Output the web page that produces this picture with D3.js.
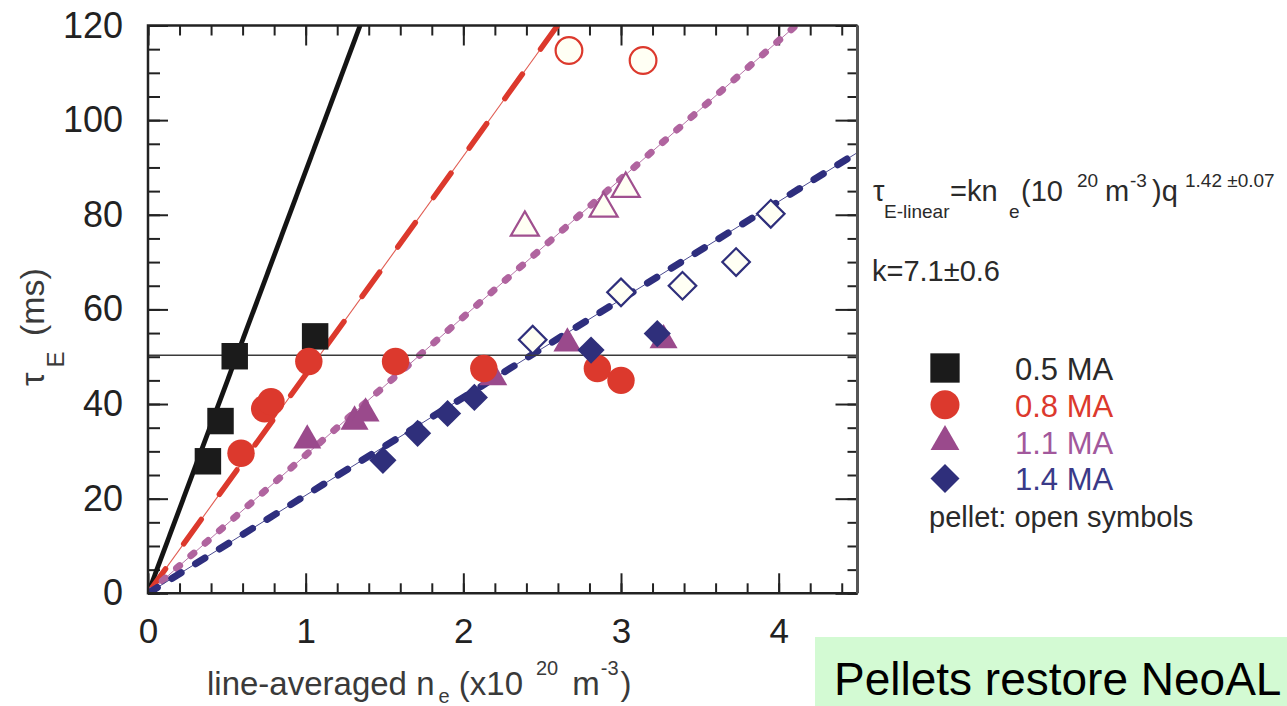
<!DOCTYPE html>
<html>
<head>
<meta charset="utf-8">
<script src="https://cdn.jsdelivr.net/npm/d3@7"></script>
<style>
  body { margin: 0; background: #fff; }
  svg { display: block; }
  text { font-family: "Liberation Sans", Arial, Helvetica, sans-serif; }
</style>
</head>
<body>
<svg id="chart" width="1287" height="706"></svg>
<script>
// ---- data ----
const currents = ["0.5 MA", "0.8 MA", "1.1 MA", "1.4 MA"]
const slopes = [89.2, 46.2, 29.2, 20.7]          // tau_E = slope * n_e, one fit per current
const squares = [[0.38, 27.9], [0.46, 36.4], [0.55, 50.1], [1.06, 54.3]]
const circles = [[0.59, 29.6], [0.74, 39.0], [0.78, 40.5], [1.02, 49.0], [1.57, 49.0], [2.13, 47.5], [2.85, 47.5], [3.0, 45.0]]
const circlesOpen = [[2.67, 114.7], [3.14, 112.6]]
const triangles = [[1.01, 32.3], [1.31, 36.3], [1.38, 38.0], [2.19, 45.7], [2.66, 52.8], [3.27, 53.5]]
const trianglesOpen = [[2.39, 77.3], [2.89, 81.3], [3.03, 85.5]]
const diamonds = [[1.49, 28.1], [1.71, 33.8], [1.90, 38.0], [2.07, 41.4], [2.81, 51.4], [3.23, 54.9]]
const diamondsOpen = [[2.44, 53.6], [3.0, 63.6], [3.39, 65.0], [3.73, 70.0], [3.95, 80.2]]
const refLevel = 50.3
const xTicks = [0, 1, 2, 3, 4]
const yTicks = [0, 20, 40, 60, 80, 100, 120]

const colors = ["#1b1b1b", "#dc392d", "#9a4a8c", "#2f2f7b"]
const textColors = ["#2a2a2a", "#dc392d", "#a2589c", "#3a3a88"]

const svg = d3.select("#chart")
svg.append("rect").attr("width", 1287).attr("height", 706).attr("fill", "#fff")

const x = d3.scaleLinear().domain([0, 4.5]).range([148, 857.5])
const y = d3.scaleLinear().domain([0, 120]).range([593.3, 25.5])
const [x0, x1] = x.range(), [y0, y1] = y.range()

svg.append("clipPath").attr("id", "plotclip")
  .append("rect").attr("x", x0).attr("y", y1).attr("width", x1 - x0).attr("height", y0 - y1)

// ---- ticks (inward, all four sides) ----
const minorX = d3.range(0, 4.501, 0.2), minorY = d3.range(0, 120.1, 5)
function ticks(axis, vals, len, at) {
  const g = svg.append("g").attr("transform", at)
    .call(axis.tickValues(vals).tickSize(-len).tickFormat(""))
  g.select(".domain").remove()
  g.selectAll("line").attr("stroke", "#222").attr("stroke-width", 2)
}
ticks(d3.axisBottom(x), minorX, 10, `translate(0,${y0})`)
ticks(d3.axisBottom(x), xTicks, 20, `translate(0,${y0})`)
ticks(d3.axisTop(x), minorX, 10, `translate(0,${y1})`)
ticks(d3.axisTop(x), xTicks, 20, `translate(0,${y1})`)
ticks(d3.axisLeft(y), minorY, 12, `translate(${x0},0)`)
ticks(d3.axisLeft(y), yTicks, 20, `translate(${x0},0)`)
ticks(d3.axisRight(y), minorY, 10, `translate(${x1},0)`)
ticks(d3.axisRight(y), yTicks, 22, `translate(${x1},0)`)

// tick labels
const xl = svg.append("g").attr("transform", `translate(0,${y0})`)
  .call(d3.axisBottom(x).tickValues(xTicks).tickSize(0).tickPadding(25).tickFormat(d3.format("d")))
xl.select(".domain").remove()
xl.selectAll("text").attr("font-size", 35).attr("fill", "#222").attr("font-family", null)
const yl = svg.append("g").attr("transform", `translate(${x0},0)`)
  .call(d3.axisLeft(y).tickValues(yTicks).tickSize(0).tickPadding(25).tickFormat(d3.format("d")))
yl.select(".domain").remove()
yl.selectAll("text").attr("font-size", 36).attr("fill", "#222").attr("font-family", null)

// ---- fit lines ----
const plot = svg.append("g").attr("clip-path", "url(#plotclip)")
const fitEnd = s => Math.min(4.5, 120 / s)
const line = d3.line().x(d => x(d[0])).y(d => y(d[1]))
const fitPts = slopes.map(s => [[0, 0], [fitEnd(s), s * fitEnd(s)]])
const styles = [
  {thin: null, w: 4.8, dash: null, cap: "butt"},
  {thin: 1.1, w: 5.5, dash: "30,31", cap: "round"},
  {thin: 1.0, w: 7, dash: "4,15", cap: "round"},
  {thin: 1.0, w: 7, dash: "11,17", cap: "round"}
]
const thinColors = ["#1b1b1b", "#e05a50", "#b776a8", "#4a4a90"]
const lineColors = ["#141414", "#dc392d", "#b0649f", "#2e2e7e"]
fitPts.forEach((pts, i) => {
  const st = styles[i]
  if (st.thin) plot.append("path").attr("d", line(pts)).attr("fill", "none")
    .attr("stroke", thinColors[i]).attr("stroke-width", st.thin)
  plot.append("path").attr("d", line(pts)).attr("fill", "none")
    .attr("stroke", lineColors[i]).attr("stroke-width", st.w)
    .attr("stroke-dasharray", st.dash).attr("stroke-linecap", st.cap)
})

// horizontal reference line
plot.append("line")
  .attr("x1", x0).attr("x2", x1).attr("y1", y(refLevel)).attr("y2", y(refLevel))
  .attr("stroke", "#3a3a3a").attr("stroke-width", 1.6)

// ---- markers ----
const sym = (type, size) => d3.symbol().type(type).size(size)()
function markers(data, type, size, color, open, rot) {
  plot.append("g").selectAll("path").data(data).enter().append("path")
    .attr("d", sym(type, size))
    .attr("transform", d => `translate(${x(d[0])},${y(d[1])})` + (rot ? " rotate(45)" : ""))
    .attr("fill", open ? "#fffff4" : color)
    .attr("stroke", open ? color : "none")
    .attr("stroke-width", open ? 2.2 : 0)
}
markers(squares, d3.symbolSquare, 700, colors[0], false)
markers(triangles, d3.symbolTriangle, 340, colors[2], false)
markers(trianglesOpen, d3.symbolTriangle, 340, "#a0508f", true)
markers(circles, d3.symbolCircle, 590, colors[1], false)
markers(circlesOpen, d3.symbolCircle, 560, colors[1], true)
markers(diamonds, d3.symbolSquare, 370, colors[3], false, true)
markers(diamondsOpen, d3.symbolSquare, 380, colors[3], true, true)

// ---- frame ----
svg.append("path")
  .attr("d", `M${x1},${y1} L${x0},${y1} L${x0},${y0} L${x1},${y0}`)
  .attr("fill", "none").attr("stroke", "#222").attr("stroke-width", 2.5)
svg.append("line").attr("x1", x1).attr("x2", x1).attr("y1", y1).attr("y2", y0)
  .attr("stroke", "#555").attr("stroke-width", 3)

// ---- axis titles ----
const xt = svg.append("text").attr("x", 207).attr("y", 695).attr("font-size", 33).attr("fill", "#3a3a3a")
xt.append("tspan").text("line-averaged n")
xt.append("tspan").attr("dx", 4).attr("dy", 8).attr("font-size", 20).text("e")
xt.append("tspan").attr("dy", -8).text(" (x10")
xt.append("tspan").attr("dx", 13).attr("dy", -20).attr("font-size", 20).text("20")
xt.append("tspan").attr("dx", 14).attr("dy", 20).text("m")
xt.append("tspan").attr("dx", 1).attr("dy", -20).attr("font-size", 20).text("-3")
xt.append("tspan").attr("dx", 2).attr("dy", 20).text(")")

const yt = svg.append("text").attr("transform", "translate(44,386) rotate(-90)")
  .attr("font-size", 34).attr("fill", "#3a3a3a")
yt.append("tspan").text("τ")
yt.append("tspan").attr("dx", 5).attr("dy", 20).attr("font-size", 24).text("E")
yt.append("tspan").attr("dx", 6).attr("dy", -20).text(" (ms)")

// ---- formula and k ----
const f = svg.append("text").attr("y", 201).attr("font-size", 29).attr("fill", "#2a2a2a")
f.append("tspan").attr("x", 873).text("τ")
f.append("tspan").attr("x", 884).attr("dy", 17).attr("font-size", 19).text("E-linear")
f.append("tspan").attr("x", 950).attr("dy", -17).text("=kn")
f.append("tspan").attr("x", 1009).attr("dy", 17).attr("font-size", 19).text("e")
f.append("tspan").attr("x", 1021).attr("dy", -17).text("(10")
f.append("tspan").attr("x", 1077).attr("dy", -14).attr("font-size", 19).text("20")
f.append("tspan").attr("x", 1105).attr("dy", 14).text("m")
f.append("tspan").attr("x", 1130).attr("dy", -14).attr("font-size", 19).text("-3")
f.append("tspan").attr("x", 1152).attr("dy", 14).text(")q")
f.append("tspan").attr("x", 1185).attr("dy", -14).attr("font-size", 19).text("1.42 ±0.07")

svg.append("text").attr("x", 872).attr("y", 281).attr("font-size", 29).attr("fill", "#2a2a2a")
  .text("k=7.1±0.6")

// ---- legend ----
const legendSyms = [[d3.symbolSquare, 860, 0], [d3.symbolCircle, 660, 0], [d3.symbolTriangle, 360, 0], [d3.symbolSquare, 420, 45]]
const leg = svg.append("g").selectAll("g").data(currents).enter().append("g")
  .attr("transform", (d, i) => `translate(945,${368 + i * 36.8})`)
leg.append("path")
  .attr("d", (d, i) => sym(legendSyms[i][0], legendSyms[i][1]))
  .attr("transform", (d, i) => `rotate(${legendSyms[i][2]})`)
  .attr("fill", (d, i) => colors[i])
leg.append("text").attr("x", 70).attr("y", 12).attr("font-size", 31)
  .attr("fill", (d, i) => textColors[i]).text(d => d)
svg.append("text").attr("x", 929).attr("y", 527).attr("font-size", 29).attr("fill", "#2a2a2a")
  .text("pellet: open symbols")

// ---- slide caption box ----
svg.append("rect").attr("x", 815).attr("y", 637).attr("width", 480).attr("height", 75).attr("fill", "#d3fad3")
svg.append("text").attr("x", 834).attr("y", 695).attr("font-size", 46).attr("fill", "#000")
  .text("Pellets restore NeoAL")
</script>
</body>
</html>
